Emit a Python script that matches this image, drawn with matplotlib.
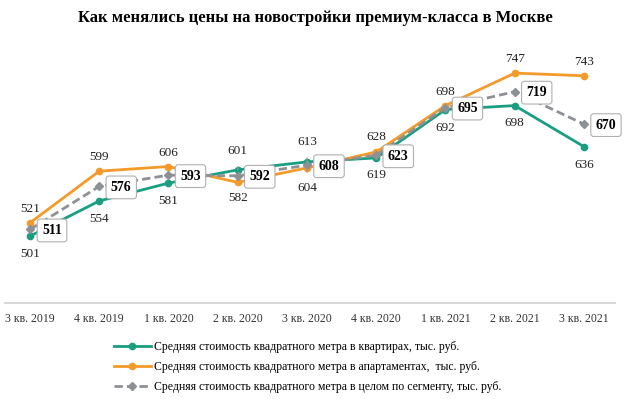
import matplotlib.pyplot as plt

plt.rcParams['font.family'] = ['Liberation Serif', 'DejaVu Serif']

# quarters and prices, thousand rubles per sq. m
quarters = ['3 кв. 2019', '4 кв. 2019', '1 кв. 2020', '2 кв. 2020', '3 кв. 2020',
            '4 кв. 2020', '1 кв. 2021', '2 кв. 2021', '3 кв. 2021']
flats = [501, 554, 581, 601, 613, 619, 692, 698, 636]
apartments = [521, 599, 606, 582, 604, 628, 698, 747, 743]
segment = [511, 576, 593, 592, 608, 623, 695, 719, 670]

# label offsets in pixels (negative = above point)
flats_dy = [18, 18, 18, -19, -20, 17, 18, 17, 18]
apart_dy = [-14, -14, -14, 16, 20, -15, -14, -14, -14]

green = '#1a9e82'
orange = '#f39a2b'
grey = '#8d9095'

W, H = 630, 399
fig = plt.figure(figsize=(W / 100, H / 100), dpi=100)
ax = fig.add_axes([5 / W, (H - 303) / H, 610 / W, (303 - 38) / H])

x = list(range(len(quarters)))
l1, = ax.plot(x, flats, color=green, lw=2, marker='o', ms=4.5, zorder=3)
l2, = ax.plot(x, apartments, color=orange, lw=2, marker='o', ms=4.5, zorder=4)
l3, = ax.plot(x, segment, color=grey, lw=2, ls=(0, (3, 1.5)), marker='D', ms=4, zorder=5)

ax.set_xlim(-0.361, 8.448)
ax.set_ylim(400, 800)

for i, v in enumerate(flats):
    dy = flats_dy[i]
    ax.annotate(str(v), (i, v), xytext=(0, -dy), textcoords='offset pixels',
                ha='center', va='center', fontsize=9.5, color='#222222', zorder=6,
                arrowprops=dict(arrowstyle='-', color='#999999', lw=0.7,
                                shrinkA=5, shrinkB=0) if dy < 0 else None)

for i, v in enumerate(apartments):
    dy = apart_dy[i]
    ax.annotate(str(v), (i, v), xytext=(0, -dy), textcoords='offset pixels',
                ha='center', va='center', fontsize=9.5, color='#222222', zorder=6,
                arrowprops=dict(arrowstyle='-', color='#999999', lw=0.7,
                                shrinkA=5, shrinkB=0) if abs(dy) > 17 else None)

for i, v in enumerate(segment):
    ax.annotate(str(v), (i, v), xytext=(22, -1), textcoords='offset pixels',
                ha='center', va='center', fontsize=10, fontweight='bold', zorder=7,
                bbox=dict(boxstyle='round,pad=0.35,rounding_size=0.2', fc='white',
                          ec='#b0b0b0', lw=0.8))

for s in ['top', 'right', 'left']:
    ax.spines[s].set_visible(False)
ax.spines['bottom'].set_color('#d9d9d9')
ax.spines['bottom'].set_linewidth(1.5)
ax.set_yticks([])
ax.set_xticks(x)
ax.set_xticklabels(quarters, fontsize=8.5, color='#333333')
ax.tick_params(axis='x', length=0, pad=7)

fig.text(0.5, 1 - 18 / H, 'Как менялись цены на новостройки премиум-класса в Москве',
         ha='center', va='center', fontsize=12, fontweight='bold')

fig.legend([l1, l2, l3],
           ['Средняя стоимость квадратного метра в квартирах, тыс. руб.',
            'Средняя стоимость квадратного метра в апартаментах,  тыс. руб.',
            'Средняя стоимость квадратного метра в целом по сегменту, тыс. руб.'],
           loc='upper left', bbox_to_anchor=(108 / W, 1 - 335 / H), frameon=False,
           fontsize=8.5, handlelength=3.1, handletextpad=0.3, labelspacing=0.7,
           borderpad=0)

fig.savefig('out.png', dpi=100)
